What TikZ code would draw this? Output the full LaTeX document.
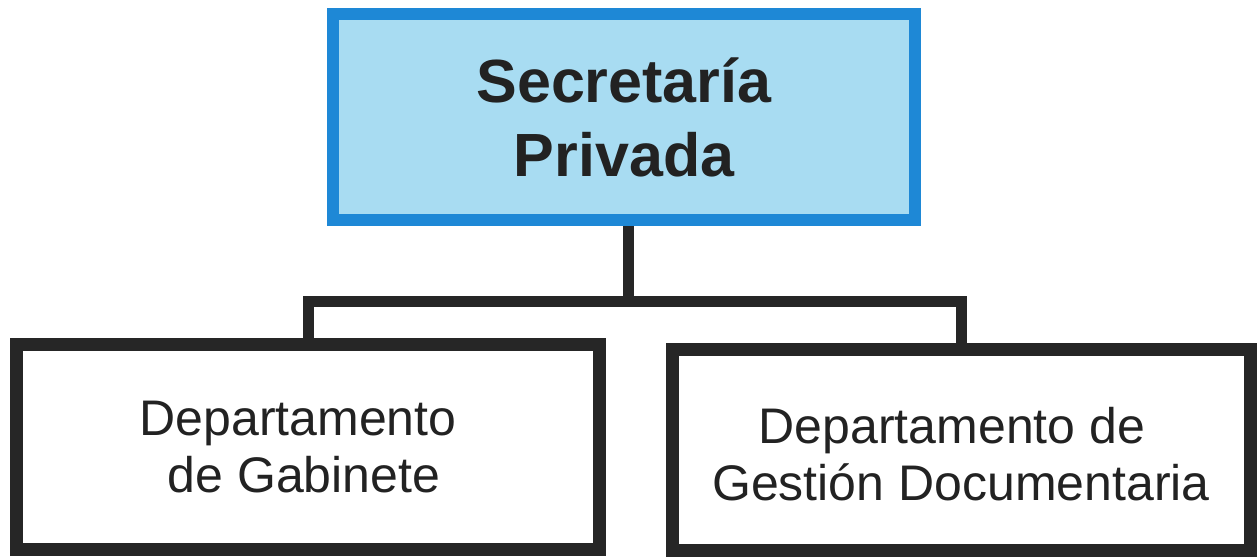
\documentclass[tikz,border=0pt]{standalone}
\usepackage{fontspec}
\setmainfont{Liberation Sans}
\usetikzlibrary{backgrounds}
\definecolor{topborder}{RGB}{30,136,214}
\definecolor{topfill}{RGB}{168,220,242}
\definecolor{darkline}{RGB}{38,38,38}
\definecolor{txt}{RGB}{34,34,34}
\begin{document}
\begin{tikzpicture}[x=1pt,y=-1pt,
  topbox/.style={draw=topborder,fill=topfill,line width=12pt,inner sep=0pt,outer sep=0pt,
    minimum width=582pt,minimum height=206pt,align=center,text=txt,
    font=\fontsize{61}{74}\selectfont\bfseries},
  deptbox/.style={draw=darkline,fill=white,line width=13pt,inner sep=0pt,outer sep=0pt,
    align=center,text=txt,font=\fontsize{50}{56.5}\selectfont},
  conn/.style={draw=darkline,line width=11pt,line join=miter}]
\useasboundingbox (0,0) rectangle (1259,559);
\node[topbox] (top) at (624,117) {Secretaría\\Privada};
\node[deptbox,minimum width=583pt,minimum height=205pt] (left) at (308,447) {Departamento\kern20pt\\de Gabinete\kern8pt};
\node[deptbox,minimum width=578pt,minimum height=201pt] (right) at (961,449.5) {\rule{0pt}{45pt}Departamento de\kern18pt\\Gestión Documentaria};
\coordinate (j) at (628,301);
\begin{scope}[on background layer]
\fill[white] (0,0) rectangle (1259,559);
\draw[conn] (top.south -| j) -- (j);
\draw[conn] (left.north) |- (j) -| (right.north);
\end{scope}
\end{tikzpicture}
\end{document}
